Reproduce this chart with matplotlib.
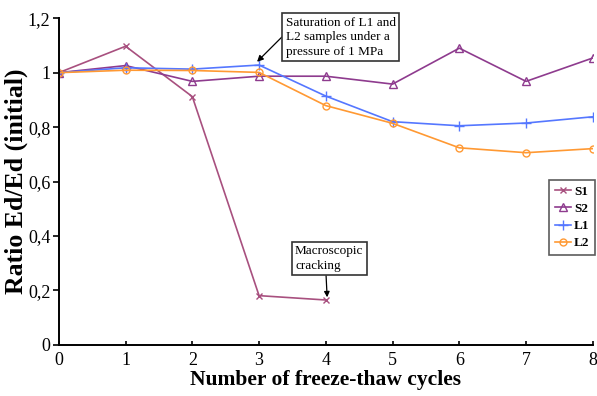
import numpy as np
import matplotlib
matplotlib.use('Agg')
import matplotlib.pyplot as plt
from matplotlib.ticker import FuncFormatter

plt.rcParams['font.family'] = ['Liberation Serif', 'DejaVu Serif']

# freeze-thaw cycles
cycles = [0, 1, 2, 3, 4, 5, 6, 7, 8]
s1_cycles = [0, 1, 2, 3, 4]

# ratio Ed/Ed(initial)
s1 = [1.0, 1.097, 0.912, 0.181, 0.165]
s2 = [1.0, 1.026, 0.968, 0.987, 0.987, 0.958, 1.090, 0.968, 1.054]
l1 = [1.0, 1.018, 1.013, 1.028, 0.914, 0.820, 0.805, 0.815, 0.838]
l2 = [1.0, 1.009, 1.008, 1.001, 0.879, 0.814, 0.724, 0.706, 0.721]

y_ticks = [0, 0.2, 0.4, 0.6, 0.8, 1.0, 1.2]


def fmt_comma(v, pos):
    # european style decimal comma, integers without decimals
    if abs(v - round(v)) < 1e-9:
        return '{:d}'.format(int(round(v)))
    return '{:.1f}'.format(v).replace('.', ',')


fig = plt.figure(figsize=(5.97, 3.96), dpi=100)
ax = fig.add_axes([0.0985, 0.129, 0.8945, 0.825])

ax.plot(s1_cycles, s1, color='#a8507f', marker='x', markersize=5, lw=1.2, label='S1')
ax.plot(cycles, s2, color='#8e3b8e', marker='^', markersize=6, mfc='none', lw=1.2, label='S2')
ax.plot(cycles, l1, color='#5577ff', marker='+', markersize=7, lw=1.2, label='L1')
ax.plot(cycles, l2, color='#ff9933', marker='o', markersize=5, mfc='none', lw=1.2, label='L2')

ax.set_xlim(0, 8)
ax.set_ylim(0, 1.2)
ax.set_xticks(cycles)
ax.set_yticks(y_ticks)
ax.yaxis.set_major_formatter(FuncFormatter(fmt_comma))

for side in ['top', 'right']:
    ax.spines[side].set_visible(False)
for side in ['left', 'bottom']:
    ax.spines[side].set_linewidth(1.4)

ax.tick_params(axis='x', direction='in', length=3, width=1.2, labelsize=13, pad=5)
ax.tick_params(axis='y', direction='out', length=4, width=1.2, labelsize=13, pad=2)

ax.set_xlabel('Number of freeze-thaw cycles', fontsize=15.5, fontweight='bold', labelpad=1)
ax.set_ylabel('Ratio Ed/Ed (initial)', fontsize=18.5, fontweight='bold', labelpad=0)

box = dict(boxstyle='square,pad=0.25', fc='white', ec='#333333', lw=1.2)
ax.annotate('Saturation of L1 and\nL2 samples under a\npressure of 1 MPa',
            xy=(2.97, 1.04), xytext=(3.4, 1.13),
            fontsize=9.5, ha='left', va='center', bbox=box, linespacing=1.3,
            arrowprops=dict(arrowstyle='-|>', color='black', lw=0.9,
                            mutation_scale=9, shrinkA=0, shrinkB=0,
                            relpos=(0.0, 0.6)))
ax.annotate('Macroscopic\ncracking',
            xy=(4.02, 0.175), xytext=(3.54, 0.318),
            fontsize=9.5, ha='left', va='center', bbox=box, linespacing=1.3,
            arrowprops=dict(arrowstyle='-|>', color='black', lw=0.9,
                            mutation_scale=8, shrinkA=0, shrinkB=0,
                            relpos=(0.45, 0.0)))

leg = ax.legend(loc='center right', bbox_to_anchor=(1.005, 0.39),
                prop={'weight': 'bold', 'size': 9.5}, frameon=True, fancybox=False,
                handlelength=1.2, handletextpad=0.25, borderpad=0.45,
                labelspacing=0.38, borderaxespad=0)
leg.get_frame().set_edgecolor('#333333')
leg.get_frame().set_linewidth(1.2)

plt.savefig('out.png', dpi=100)
